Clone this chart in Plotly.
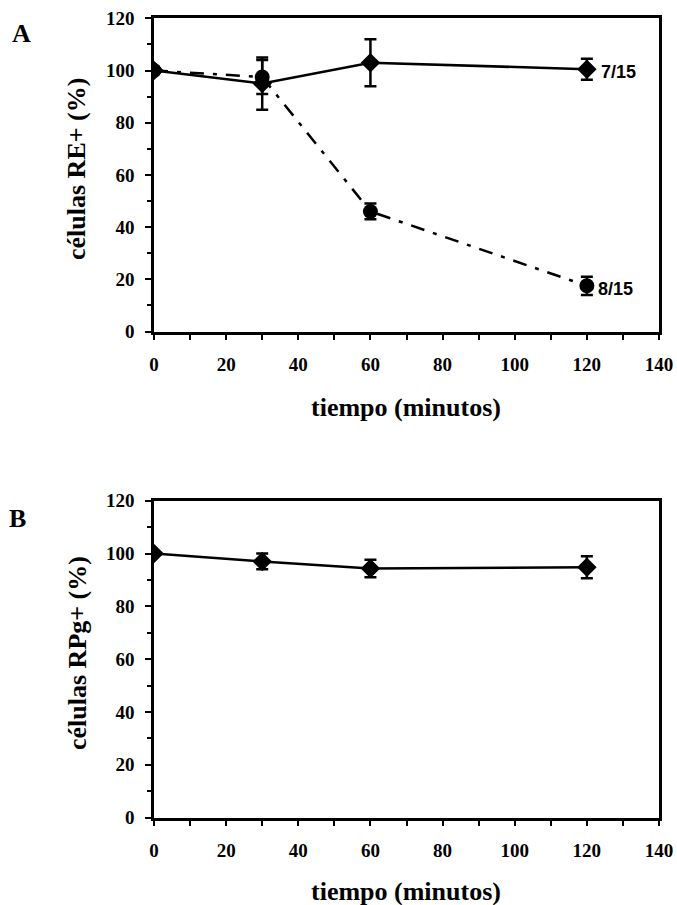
import plotly.graph_objects as go

# ---- data ----
tiempo = [0, 30, 60, 120]
re_7_15 = [100, 95, 103, 100.5]
re_7_15_err = [0, 10, 9, 4]
re_8_15 = [100, 97.5, 46, 17.5]
re_8_15_err = [0, 6.5, 3, 3.5]
rpg = [100, 97, 94.3, 94.8]
rpg_err = [0, 3, 3.3, 4.2]
label_a = ["7/15", "8/15"]
x_ticks = [0, 20, 40, 60, 80, 100, 120, 140]
y_ticks = [0, 20, 40, 60, 80, 100, 120]

# the page body margin is removed below, so the figure fills the 677x905 window
W, H = 677, 905

def px(x):
    return x / W

def py(y):
    return 1 - y / H

serif = "Liberation Serif, Times New Roman, serif"
sans = "Liberation Sans, Arial, sans-serif"

fig = go.Figure()

def err(v):
    return dict(type="data", array=v, visible=True, color="black", thickness=2.5, width=6)

# Panel A
fig.add_trace(go.Scatter(x=tiempo, y=re_7_15, error_y=err(re_7_15_err), mode="lines+markers",
                         line=dict(color="black", width=2.5),
                         marker=dict(symbol="diamond", size=15, color="black"),
                         xaxis="x", yaxis="y", showlegend=False))
fig.add_trace(go.Scatter(x=tiempo, y=re_8_15, error_y=err(re_8_15_err), mode="lines+markers",
                         line=dict(color="black", width=2.5, dash="14px,9px,4px,9px"),
                         marker=dict(symbol="circle", size=15, color="black"),
                         xaxis="x", yaxis="y", showlegend=False))
# Panel B
fig.add_trace(go.Scatter(x=tiempo, y=rpg, error_y=err(rpg_err), mode="lines+markers",
                         line=dict(color="black", width=2.5),
                         marker=dict(symbol="diamond", size=15, color="black"),
                         xaxis="x2", yaxis="y2", showlegend=False))

xd = [px(154), px(659)]
yA = [py(331.5), py(18.3)]
yB = [py(817.5), py(500.7)]

tickfont = dict(family=serif, size=19, color="black")

def xax(anchor):
    return dict(domain=xd, range=[0, 140], tickvals=x_ticks, ticktext=["<b>%d</b>" % v for v in x_ticks],
                ticks="outside", ticklen=6, tickwidth=2, tickcolor="black",
                minor=dict(dtick=10, tick0=0, ticks="outside", ticklen=6, tickwidth=2, tickcolor="black"),
                showline=True, linewidth=2.5, linecolor="black", mirror=True,
                showgrid=False, zeroline=False, anchor=anchor, tickfont=tickfont,
                ticklabelstandoff=8, ticklabeloverflow="allow",
                automargin=False, fixedrange=True)

def yax(domain, anchor):
    return dict(domain=domain, range=[0, 120], tickvals=y_ticks, ticktext=["<b>%d</b>" % v for v in y_ticks],
                ticks="outside", ticklen=6, tickwidth=2, tickcolor="black",
                minor=dict(dtick=10, tick0=0, ticks="outside", ticklen=4, tickwidth=2, tickcolor="black"),
                showline=True, linewidth=2.5, linecolor="black", mirror=True,
                showgrid=False, zeroline=False, anchor=anchor, tickfont=tickfont,
                ticklabelstandoff=7, ticklabeloverflow="allow",
                automargin=False, fixedrange=True)

fig.update_layout(
    width=W, height=H,
    margin=dict(l=0, r=0, t=0, b=0),
    paper_bgcolor="white", plot_bgcolor="white",
    xaxis=xax("y"), yaxis=yax(yA, "x"),
    xaxis2=xax("y2"), yaxis2=yax(yB, "x2"),
)

ann = []
title_font = dict(family=serif, size=26, color="black")
ann.append(dict(text="<b>células RE+ (%)</b>", x=px(77), y=py(169), xref="paper", yref="paper",
                textangle=-90, showarrow=False, font=title_font, xanchor="center", yanchor="middle"))
ann.append(dict(text="<b>células RPg+ (%)</b>", x=px(77), y=py(653), xref="paper", yref="paper",
                textangle=-90, showarrow=False, font=title_font, xanchor="center", yanchor="middle"))
ann.append(dict(text="<b>tiempo (minutos)</b>", x=px(406), y=py(407), xref="paper", yref="paper",
                showarrow=False, font=title_font, xanchor="center", yanchor="middle"))
ann.append(dict(text="<b>tiempo (minutos)</b>", x=px(406), y=py(891), xref="paper", yref="paper",
                showarrow=False, font=title_font, xanchor="center", yanchor="middle", borderpad=0))
ann.append(dict(text="<b>A</b>", x=px(22), y=py(34), xref="paper", yref="paper",
                showarrow=False, font=dict(family=serif, size=26, color="black"), xanchor="center", yanchor="middle"))
ann.append(dict(text="<b>B</b>", x=px(17), y=py(518), xref="paper", yref="paper",
                showarrow=False, font=dict(family=serif, size=26, color="black"), xanchor="center", yanchor="middle"))
# series labels
ann.append(dict(text="<b>" + label_a[0] + "</b>", x=tiempo[-1], y=re_7_15[-1], xref="x", yref="y",
                showarrow=False, xanchor="left", yanchor="middle", xshift=12, yshift=-3,
                font=dict(family=sans, size=18, color="black")))
ann.append(dict(text="<b>" + label_a[1] + "</b>", x=tiempo[-1], y=re_8_15[-1], xref="x", yref="y",
                showarrow=False, xanchor="left", yanchor="middle", xshift=9, yshift=-3,
                font=dict(family=sans, size=18, color="black")))
fig.update_layout(annotations=ann)

fig.write_html("out.html", config={"displayModeBar": False},
               post_script="document.body.style.margin='0px';document.body.style.overflow='hidden';")
